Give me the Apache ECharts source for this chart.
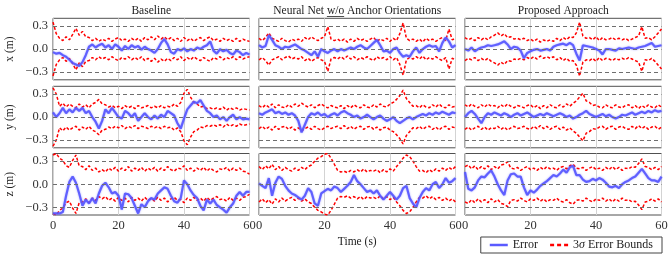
<!DOCTYPE html>
<html><head><meta charset="utf-8">
<script src="https://cdn.jsdelivr.net/npm/echarts@6/dist/echarts.min.js"></script>
<style>html,body{margin:0;padding:0;background:#fff}#c{width:672px;height:254px}</style>
</head><body><div id="c"></div>
<script>
const seconds=[0,1,2,3,4,5,6,7,8,9,10,11,12,13,14,15,16,17,18,19,20,21,22,23,24,25,26,27,28,29,30,31,32,33,34,35,36,37,38,39,40,41,42,43,44,45,46,47,48,49,50,51,52,53,54,55,56,57,58,59,60];
const colTitles=['Baseline','Neural Net w/o Anchor Orientations','Proposed Approach'];
const rowNames=['x (m)','y (m)','z (m)'];
const yGuides=[-0.3,0,0.3];

// x row
const err_x_base=[-0.04,-0.06,-0.05,-0.08,-0.1,-0.14,-0.18,-0.2,-0.22,-0.17,-0.08,0.03,0.06,0.02,0.05,0.07,0.02,0.05,0.0,0.06,0.03,-0.02,0.04,0.0,0.05,0.02,0.04,-0.01,0.03,0.0,-0.02,-0.05,0.0,0.08,0.13,0.06,-0.04,-0.06,0.0,-0.02,0.01,-0.03,0.0,-0.02,0.02,0.0,0.03,0.05,0.1,-0.02,-0.06,0.0,-0.03,-0.01,-0.05,-0.07,-0.02,-0.04,-0.08,-0.05,-0.07];
const bnd_x_base=[0.35,0.2,0.14,0.11,0.16,0.12,0.19,0.27,0.18,0.23,0.16,0.15,0.11,0.14,0.1,0.13,0.11,0.14,0.1,0.13,0.15,0.11,0.13,0.1,0.14,0.11,0.14,0.1,0.15,0.12,0.16,0.12,0.17,0.13,0.16,0.12,0.15,0.11,0.14,0.1,0.15,0.11,0.14,0.1,0.13,0.15,0.11,0.14,0.16,0.11,0.13,0.1,0.14,0.11,0.13,0.1,0.14,0.1,0.13,0.11,0.1];
const err_x_nn=[0.05,0.02,0.04,0.18,0.12,0.05,0.03,0.0,0.03,0.02,0.04,0.06,0.03,0.0,-0.02,-0.05,-0.08,-0.03,-0.1,0.0,-0.03,-0.05,-0.02,0.0,-0.03,0.0,-0.02,0.0,0.02,0.0,0.03,0.05,0.02,0.0,0.04,0.08,0.12,0.05,-0.03,-0.02,-0.05,0.0,0.02,-0.05,-0.1,-0.08,-0.1,-0.03,0.02,-0.05,0.0,0.03,0.05,0.03,0.04,-0.03,0.08,0.15,0.1,0.02,0.05];
const bnd_x_nn=[0.14,0.11,0.15,0.21,0.14,0.12,0.1,0.14,0.11,0.09,0.13,0.11,0.13,0.1,0.15,0.12,0.16,0.13,0.11,0.14,0.16,0.29,0.13,0.11,0.13,0.1,0.13,0.09,0.13,0.1,0.14,0.11,0.13,0.1,0.13,0.15,0.1,0.13,0.11,0.14,0.1,0.14,0.11,0.2,0.34,0.14,0.11,0.13,0.1,0.13,0.09,0.14,0.11,0.13,0.1,0.13,0.15,0.11,0.26,0.12,0.14];
const err_x_prop=[0.0,-0.02,0.02,-0.03,0.0,0.02,0.03,0.05,0.04,0.05,0.06,0.08,0.1,0.06,0.0,0.03,0.02,-0.02,-0.12,-0.05,-0.03,-0.01,0.0,-0.02,-0.01,0.0,-0.02,0.03,0.05,0.06,0.07,0.05,0.08,0.05,-0.06,-0.15,0.05,0.04,0.03,0.02,0.0,-0.02,-0.07,0.0,0.0,-0.01,-0.02,0.01,0.0,0.01,0.02,0.01,0.0,0.02,0.03,0.04,0.06,0.08,0.03,0.04,0.05];
const bnd_x_prop=[0.15,0.12,0.14,0.11,0.15,0.12,0.15,0.12,0.16,0.18,0.21,0.17,0.2,0.15,0.16,0.13,0.14,0.12,0.14,0.11,0.13,0.1,0.13,0.09,0.12,0.1,0.12,0.1,0.14,0.11,0.15,0.12,0.16,0.15,0.21,0.35,0.17,0.14,0.15,0.12,0.16,0.11,0.15,0.12,0.13,0.15,0.12,0.14,0.12,0.14,0.11,0.13,0.15,0.17,0.29,0.14,0.15,0.12,0.16,0.21,0.26];
// y row
const err_y_base=[0.06,0.0,0.05,0.12,0.05,0.1,0.06,0.12,0.08,0.12,0.05,0.08,0.0,-0.06,-0.15,-0.05,0.1,0.05,0.12,0.06,0.0,-0.02,0.08,0.05,0.0,0.05,-0.05,0.0,0.05,0.0,-0.03,0.02,-0.02,0.03,0.0,0.08,0.05,0.02,-0.08,-0.15,-0.02,0.1,0.15,0.2,0.18,0.22,0.15,0.08,0.05,0.0,0.02,-0.03,0.0,-0.05,0.0,0.03,-0.03,0.0,-0.03,-0.02,-0.03];
const bnd_y_base=[0.38,0.3,0.14,0.18,0.13,0.17,0.14,0.12,0.17,0.13,0.16,0.12,0.17,0.19,0.23,0.17,0.16,0.13,0.15,0.12,0.14,0.11,0.15,0.12,0.14,0.11,0.15,0.12,0.13,0.15,0.12,0.14,0.12,0.15,0.12,0.14,0.13,0.17,0.14,0.19,0.31,0.36,0.26,0.19,0.17,0.13,0.14,0.11,0.12,0.1,0.12,0.1,0.13,0.09,0.12,0.1,0.12,0.09,0.11,0.1,0.09];
const err_y_nn=[0.05,0.03,0.06,0.08,0.1,0.05,0.07,0.04,0.06,0.03,0.05,0.02,-0.05,-0.2,-0.1,0.0,0.05,0.03,0.06,0.02,0.04,0.0,0.03,0.05,0.02,0.06,0.08,0.05,0.03,0.0,0.02,-0.02,0.0,0.03,0.0,-0.03,0.0,0.02,-0.02,-0.05,-0.03,0.0,-0.05,-0.08,-0.05,-0.02,0.0,-0.03,0.0,0.02,0.04,0.02,0.05,0.03,0.06,0.04,0.07,0.05,0.03,0.06,0.05];
const bnd_y_nn=[0.15,0.12,0.16,0.13,0.17,0.12,0.16,0.13,0.12,0.16,0.13,0.17,0.14,0.18,0.15,0.13,0.16,0.12,0.15,0.17,0.14,0.12,0.15,0.13,0.12,0.15,0.11,0.15,0.12,0.16,0.13,0.12,0.16,0.13,0.12,0.16,0.13,0.17,0.14,0.13,0.17,0.19,0.23,0.28,0.35,0.24,0.19,0.14,0.15,0.12,0.16,0.13,0.12,0.16,0.13,0.17,0.13,0.12,0.16,0.13,0.14];
const err_y_prop=[0.0,0.05,0.08,0.04,-0.02,-0.08,0.0,0.05,0.03,0.06,0.04,0.02,0.05,0.03,0.0,0.03,0.05,0.02,0.04,0.06,0.03,0.0,0.02,0.04,0.02,0.05,0.03,0.01,0.03,0.05,0.03,0.0,0.02,-0.02,0.0,0.03,0.05,0.08,0.04,0.02,0.0,0.02,0.04,0.01,0.03,0.0,-0.02,0.0,0.03,0.02,0.04,0.06,0.03,0.05,0.07,0.05,0.08,0.06,0.09,0.07,0.08];
const bnd_y_prop=[0.16,0.13,0.17,0.14,0.12,0.16,0.13,0.17,0.14,0.15,0.12,0.16,0.13,0.17,0.14,0.12,0.15,0.14,0.12,0.15,0.16,0.12,0.15,0.11,0.15,0.12,0.16,0.13,0.12,0.16,0.13,0.17,0.14,0.18,0.21,0.26,0.31,0.21,0.19,0.15,0.16,0.13,0.12,0.16,0.13,0.12,0.16,0.13,0.12,0.15,0.16,0.12,0.15,0.11,0.15,0.12,0.16,0.13,0.12,0.16,0.13];
// z row
const err_z_base=[-0.38,-0.38,-0.38,-0.36,-0.15,0.03,0.1,0.02,-0.12,-0.28,-0.2,-0.25,-0.18,-0.25,-0.12,-0.02,0.02,-0.04,-0.12,-0.1,-0.15,-0.33,-0.12,-0.13,-0.18,-0.28,-0.38,-0.26,-0.3,-0.22,-0.18,-0.2,-0.12,-0.08,-0.04,-0.06,-0.15,-0.22,-0.24,-0.18,0.05,0.0,-0.08,-0.14,-0.18,-0.28,-0.34,-0.2,-0.25,-0.2,-0.27,-0.3,-0.33,-0.37,-0.3,-0.25,-0.15,-0.1,-0.15,-0.1,-0.1];
const bnd_z_base=[0.38,0.4,0.34,0.31,0.24,0.22,0.31,0.38,0.24,0.23,0.19,0.24,0.18,0.21,0.16,0.19,0.16,0.21,0.18,0.22,0.17,0.21,0.18,0.23,0.17,0.21,0.18,0.22,0.17,0.21,0.18,0.22,0.17,0.21,0.18,0.23,0.19,0.17,0.21,0.2,0.24,0.18,0.21,0.17,0.21,0.18,0.22,0.17,0.21,0.18,0.16,0.2,0.19,0.22,0.17,0.21,0.18,0.21,0.17,0.16,0.13];
const err_z_nn=[0.01,-0.02,-0.05,0.08,-0.15,0.02,0.1,0.07,-0.02,-0.08,-0.12,-0.14,-0.17,-0.2,-0.15,-0.05,-0.1,-0.25,-0.28,-0.12,-0.09,-0.06,-0.08,-0.03,-0.05,-0.1,-0.06,-0.02,0.03,0.12,0.04,0.0,-0.05,-0.1,-0.08,-0.12,-0.08,-0.15,-0.2,-0.15,-0.1,-0.15,-0.2,-0.15,-0.05,-0.02,-0.18,-0.25,-0.3,-0.18,-0.1,-0.05,-0.08,0.0,0.03,-0.05,0.0,0.08,0.02,0.04,0.08];
const bnd_z_nn=[0.23,0.19,0.24,0.2,0.26,0.19,0.23,0.18,0.22,0.19,0.17,0.21,0.18,0.22,0.19,0.23,0.25,0.3,0.34,0.36,0.39,0.4,0.34,0.26,0.18,0.16,0.17,0.15,0.18,0.16,0.19,0.16,0.2,0.16,0.18,0.17,0.19,0.15,0.19,0.16,0.2,0.17,0.23,0.28,0.34,0.38,0.36,0.3,0.23,0.17,0.18,0.15,0.19,0.16,0.2,0.17,0.21,0.18,0.22,0.19,0.23];
const err_z_prop=[0.16,-0.06,-0.08,-0.04,0.05,0.1,0.09,0.14,0.18,0.1,0.0,-0.08,-0.14,0.05,0.13,0.14,0.1,0.1,-0.04,-0.14,-0.08,-0.11,-0.07,-0.02,0.01,0.04,0.08,0.12,0.1,0.14,0.19,0.15,0.22,0.24,0.12,0.12,0.06,0.03,0.04,0.07,0.05,0.08,0.06,0.02,-0.03,-0.04,-0.02,-0.05,0.0,0.03,0.05,0.08,0.1,0.15,0.2,0.14,0.08,0.05,0.05,0.03,0.1];
const bnd_z_prop=[0.23,0.25,0.2,0.24,0.19,0.23,0.2,0.24,0.19,0.23,0.2,0.25,0.26,0.29,0.21,0.2,0.22,0.18,0.21,0.23,0.19,0.21,0.18,0.22,0.19,0.23,0.2,0.21,0.18,0.22,0.23,0.2,0.24,0.26,0.21,0.2,0.22,0.18,0.21,0.23,0.19,0.21,0.18,0.22,0.19,0.23,0.19,0.22,0.18,0.21,0.2,0.23,0.22,0.27,0.33,0.23,0.22,0.19,0.22,0.19,0.23];

const panels=[
 [[err_x_base,bnd_x_base],[err_x_nn,bnd_x_nn],[err_x_prop,bnd_x_prop]],
 [[err_y_base,bnd_y_base],[err_y_nn,bnd_y_nn],[err_y_prop,bnd_y_prop]],
 [[err_z_base,bnd_z_base],[err_z_nn,bnd_z_nn],[err_z_prop,bnd_z_prop]]
];

const FONT='"Liberation Serif", "Times New Roman", serif';
const lefts=[53,259,465], W=196.5, tops=[18.3,86.3,153.5], H=61.5;
const grids=[],xAxes=[],yAxes=[],series=[];
const fmt=v=>{ if(Math.abs(v)<1e-6) return '0.0'; if(Math.abs(v-0.3)<1e-6) return '0.3'; if(Math.abs(v+0.3)<1e-6) return '\u22120.3'; return ''; };
for(let r=0;r<3;r++){for(let c=0;c<3;c++){
  const i=r*3+c;
  grids.push({left:lefts[c],top:tops[r],width:W,height:H,show:true,borderColor:'#505050',borderWidth:1,backgroundColor:'transparent'});
  xAxes.push({gridIndex:i,type:'value',min:0,max:60,interval:20,
    axisLine:{show:false},axisTick:{show:false},
    axisLabel:{show:r===2,showMinLabel:true,showMaxLabel:true,fontFamily:FONT,fontSize:12.5,color:'#333',margin:4},
    splitLine:{show:true,lineStyle:{color:'#d3d3d3',width:1}},
    name:(r===2&&c===1)?'Time (s)':'',nameLocation:'middle',nameGap:21,
    nameTextStyle:{fontFamily:FONT,fontSize:11.5,color:'#222'}});
  yAxes.push({gridIndex:i,type:'value',min:-0.4,max:0.4,interval:0.1,
    axisLine:{show:false},axisTick:{show:false},splitLine:{show:false},
    axisLabel:{show:c===0,formatter:fmt,fontFamily:FONT,fontSize:12.5,color:'#333',margin:5},
    name:c===0?rowNames[r]:'',nameLocation:'middle',nameRotate:90,nameGap:37,
    nameTextStyle:{fontFamily:FONT,fontSize:11.5,color:'#222'}});
  const [err,bnd]=panels[r][c];
  series.push({type:'line',name:'3σ Error Bounds',xAxisIndex:i,yAxisIndex:i,symbol:'none',showSymbol:false,z:2,
    data:seconds.map((t,k)=>[t,bnd[k]]),
    lineStyle:{color:'#ff0000',width:1.5,type:[3,2]},itemStyle:{color:'#ff0000'},
    markLine:{silent:true,symbol:['none','none'],label:{show:false},animation:false,
      lineStyle:{color:'#6e6e6e',type:[4,3],width:1},data:yGuides.map(v=>({yAxis:v}))}});
  series.push({type:'line',name:'3σ Error Bounds',xAxisIndex:i,yAxisIndex:i,symbol:'none',showSymbol:false,z:2,
    data:seconds.map((t,k)=>[t,-bnd[k]]),
    lineStyle:{color:'#ff0000',width:1.5,type:[3,2]},itemStyle:{color:'#ff0000'}});
  series.push({type:'line',name:'Error',xAxisIndex:i,yAxisIndex:i,symbol:'none',showSymbol:false,z:3,
    data:seconds.map((t,k)=>[t,err[k]]),
    lineStyle:{color:'rgba(85,85,255,0.9)',width:2.2,shadowBlur:2,shadowColor:'rgba(90,90,255,0.6)'},itemStyle:{color:'#5a5aff'}});
}}

// titles
const graphics=[];
const TFS=11.5;
colTitles.forEach((t,c)=>{
  graphics.push({type:'text',x:lefts[c]+W/2,y:5,style:{text:t,fill:'#222',font:TFS+'px '+FONT,textAlign:'center',textVerticalAlign:'top'}});
});
(function(){
  const cv=document.createElement('canvas').getContext('2d');
  cv.font=TFS+'px '+FONT;
  const full=cv.measureText(colTitles[1]).width;
  const pre=cv.measureText('Neural Net ').width;
  const w=cv.measureText('w/o').width;
  const x0=lefts[1]+W/2-full/2+pre;
  graphics.push({type:'line',shape:{x1:x0,y1:16.5,x2:x0+w,y2:16.5},style:{stroke:'#222',lineWidth:0.8}});
})();

const chart=echarts.init(document.getElementById('c'),null,{renderer:'canvas'});
chart.setOption({
  animation:false,
  backgroundColor:'#fff',
  grid:grids,xAxis:xAxes,yAxis:yAxes,series:series,graphic:graphics,
  legend:{data:[
      {name:'Error',icon:'path://M0,0h18v2.5h-18z',itemStyle:{color:'#5a5aff'}},
      {name:'3σ Error Bounds',icon:'path://M0,0h4v2.5h-4z M7,0h4v2.5h-4z M14,0h4v2.5h-4z',itemStyle:{color:'#ff0000'}}],
    right:10,bottom:1,orient:'horizontal',
    borderColor:'#444',borderWidth:1,borderRadius:0,padding:[2,9,2,9],itemWidth:18,itemHeight:2.5,itemGap:12,
    formatter:n=>n==='Error'?'Error':'3{i|σ} Error Bounds',
    textStyle:{fontFamily:FONT,fontSize:12,color:'#222',rich:{i:{fontFamily:FONT,fontSize:12,fontStyle:'italic',color:'#222'}}}}
});
</script></body></html>
